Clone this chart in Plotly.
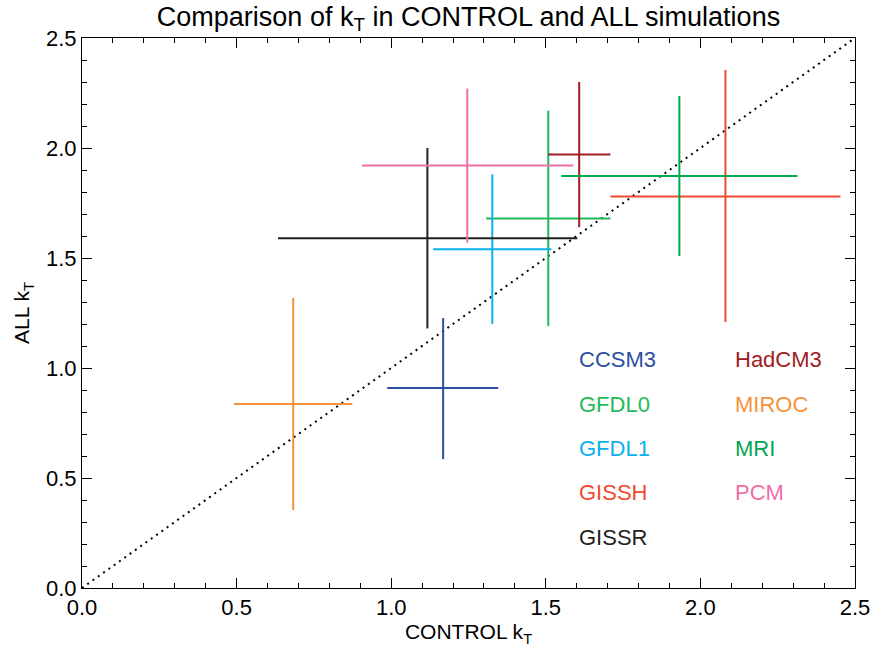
import plotly.graph_objects as go

models = ["CCSM3", "GFDL0", "GFDL1", "GISSH", "GISSR", "HadCM3", "MIROC", "MRI", "PCM"]
colors = ["#2b4fa0", "#1fba5c", "#0ab0ea", "#f04a30", "#231f20", "#a01c22", "#f7923a", "#00a651", "#ee6fa6"]
ctrl_kt = [1.168, 1.508, 1.327, 2.081, 1.117, 1.608, 0.683, 1.932, 1.246]
ctrl_lo = [0.987, 1.307, 1.136, 1.709, 0.634, 1.508, 0.492, 1.550, 0.906]
ctrl_hi = [1.346, 1.709, 1.518, 2.453, 1.602, 1.709, 0.874, 2.314, 1.589]
all_kt = [0.909, 1.680, 1.540, 1.780, 1.590, 1.970, 0.836, 1.873, 1.920]
all_lo = [0.586, 1.190, 1.200, 1.209, 1.180, 1.640, 0.355, 1.509, 1.570]
all_hi = [1.227, 2.170, 1.880, 2.355, 2.000, 2.300, 1.318, 2.236, 2.270]

legend_x = [1.60, 1.60, 1.60, 1.60, 1.60, 2.105, 2.105, 2.105, 2.105]
legend_y = [1.04, 0.832, 0.632, 0.432, 0.228, 1.04, 0.832, 0.632, 0.432]

FONT = "Liberation Sans, Arial, Helvetica, sans-serif"

fig = go.Figure()

fig.add_trace(go.Scatter(x=[0, 2.5], y=[0, 2.5], mode="lines",
                         line=dict(color="black", width=2, dash="2px,4.5px"),
                         showlegend=False, hoverinfo="skip"))

for i, m in enumerate(models):
    fig.add_trace(go.Scatter(
        x=[ctrl_kt[i]], y=[all_kt[i]], mode="markers",
        marker=dict(size=1, color=colors[i], opacity=0),
        error_x=dict(type="data", symmetric=False,
                     array=[ctrl_hi[i] - ctrl_kt[i]], arrayminus=[ctrl_kt[i] - ctrl_lo[i]],
                     color=colors[i], thickness=2, width=0),
        error_y=dict(type="data", symmetric=False,
                     array=[all_hi[i] - all_kt[i]], arrayminus=[all_kt[i] - all_lo[i]],
                     color=colors[i], thickness=2, width=0),
        name=m, showlegend=False))
    fig.add_annotation(x=legend_x[i], y=legend_y[i], text=m, showarrow=False,
                       xanchor="left", yanchor="middle",
                       font=dict(size=22, color=colors[i], family=FONT))

axis_common = dict(
    showgrid=False, zeroline=False, showline=True, linecolor="black", linewidth=1,
    mirror="allticks", ticks="inside", ticklen=10, tickcolor="black", tickwidth=1,
    dtick=0.5, tick0=0, tickformat=".1f", range=[0, 2.5],
    tickfont=dict(size=22, color="black", family=FONT),
    minor=dict(dtick=0.1, ticklen=5, ticks="inside", tickcolor="black", tickwidth=1),
    automargin=False, ticklabeloverflow="allow",
)

fig.update_layout(
    width=875, height=647,
    margin=dict(l=82, r=20, t=38, b=59),
    plot_bgcolor="white", paper_bgcolor="white",
    font=dict(family=FONT, color="black"),
    title=dict(text="Comparison of k<sub>T</sub> in CONTROL and ALL simulations",
               xref="paper", x=0.5, xanchor="center",
               yref="container", y=0.975, yanchor="middle",
               font=dict(size=27, color="black", family=FONT)),
    xaxis=dict(axis_common, title=dict(text="CONTROL k<sub>T</sub>", font=dict(size=21), standoff=2)),
    yaxis=dict(axis_common, title=dict(text="ALL k<sub>T</sub>", font=dict(size=21), standoff=10)),
    showlegend=False,
)

fig.write_html("out.html", config={"displayModeBar": False},
               post_script="document.body.style.margin='0';")
